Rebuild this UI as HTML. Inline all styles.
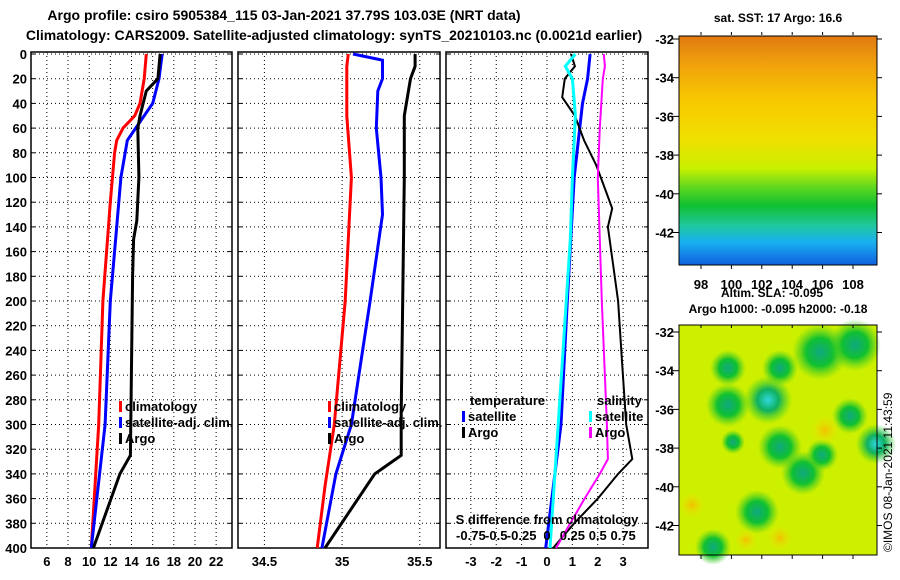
<!DOCTYPE html>
<html><head><meta charset="utf-8">
<style>
body{margin:0;background:#fff;}
svg{display:block;font-family:"Liberation Sans",sans-serif;font-weight:bold;}
</style></head>
<body>
<svg id="chart" width="900" height="580" viewBox="0 0 900 580" xmlns="http://www.w3.org/2000/svg">
<defs>
<linearGradient id="sstg" x1="0" y1="0" x2="0" y2="1">
<stop offset="0" stop-color="#e07a10"/><stop offset="0.12" stop-color="#f0a00c"/>
<stop offset="0.28" stop-color="#f8c800"/><stop offset="0.45" stop-color="#f0e000"/>
<stop offset="0.58" stop-color="#c8f000"/><stop offset="0.66" stop-color="#60d820"/>
<stop offset="0.74" stop-color="#10c030"/><stop offset="0.83" stop-color="#20c8a0"/>
<stop offset="0.9" stop-color="#18b0f0"/><stop offset="1" stop-color="#1060e0"/>
</linearGradient>
<radialGradient id="blob"><stop offset="0" stop-color="#10a880"/><stop offset="0.5" stop-color="#10c030"/><stop offset="1" stop-color="#50d020" stop-opacity="0"/></radialGradient>
<radialGradient id="blobc"><stop offset="0" stop-color="#30d8e0"/><stop offset="0.45" stop-color="#10b060"/><stop offset="1" stop-color="#30d020" stop-opacity="0"/></radialGradient>
<radialGradient id="blobo"><stop offset="0" stop-color="#f2c000"/><stop offset="1" stop-color="#e8ec00" stop-opacity="0"/></radialGradient>
</defs>
<text x="284" y="20" font-size="14" text-anchor="middle">Argo profile: csiro 5905384_115 03-Jan-2021 37.79S 103.03E (NRT data)</text>
<text x="334" y="40" font-size="14" text-anchor="middle">Climatology: CARS2009. Satellite-adjusted climatology: synTS_20210103.nc (0.0021d earlier)</text>
<g id="p1"></g>
<g id="p2"></g>
<g id="p3"></g>
<g id="maps">
<text x="778" y="22" font-size="12" text-anchor="middle">sat. SST: 17 Argo: 16.6</text>
<rect x="679" y="36" width="198" height="229" fill="url(#sstg)"/>
<rect x="679" y="36" width="198" height="229" fill="none" stroke="#000" stroke-width="1"/>
<text x="772" y="297" font-size="12" text-anchor="middle">Altim. SLA: -0.095</text>
<text x="778" y="313" font-size="12" text-anchor="middle">Argo h1000: -0.095 h2000: -0.18</text>
<rect x="679" y="325" width="198" height="230" fill="#ccf000"/>
<g id="blobs"></g>
<rect x="679" y="325" width="198" height="230" fill="none" stroke="#000" stroke-width="1"/>
<text transform="translate(892,552) rotate(-90)" font-size="12" font-weight="normal">©IMOS 08-Jan-2021 11:43:59</text>
</g>
</svg>
<script>
const NS="http://www.w3.org/2000/svg";
const svg=document.getElementById('chart');
function mk(p,t,a){const e=document.createElementNS(NS,t);for(const k in a)e.setAttribute(k,a[k]);p.appendChild(e);return e;}
const yTop=54,yBot=548,dMax=400;
const Y=d=>yTop+d/dMax*(yBot-yTop);
// data
const depthTicks=[0,20,40,60,80,100,120,140,160,180,200,220,240,260,280,300,320,340,360,380,400];
const tTicks=[6,8,10,12,14,16,18,20,22];
const sTicks=[34.5,35,35.5];
const dTicks=[-3,-2,-1,0,1,2,3];
const climTDepth=[0,20,40,50,60,70,80,120,200,300,400];
const climT=[15.4,15.2,14.8,14.3,13.2,12.6,12.4,12.0,11.3,10.9,10.2];
const satTDepth=[0,20,40,60,70,100,140,200,300,400];
const satT=[16.9,16.6,16.0,14.4,13.6,13.0,12.6,12.0,11.5,10.2];
const argoTDepth=[0,20,30,50,60,100,135,150,180,325,340,400];
const argoT=[16.7,16.5,15.4,14.8,14.6,14.7,14.5,14.2,14.1,13.9,12.9,10.4];
const climSDepth=[0,10,50,100,200,300,350,400];
const climS=[35.04,35.03,35.03,35.06,35.02,34.95,34.89,34.84];
const satSDepth=[0,5,20,30,60,100,130,200,300,340,400];
const satS=[35.07,35.26,35.26,35.23,35.22,35.25,35.26,35.18,35.06,34.96,34.87];
const argoSDepth=[0,10,20,50,100,200,290,325,340,400];
const argoS=[35.47,35.47,35.44,35.40,35.40,35.39,35.38,35.38,35.21,34.89];
const dTsatDepth=[0,20,40,100,200,300,400];
const dTsat=[1.7,1.6,1.4,1.07,0.8,0.55,-0.05];
const dTargoDepth=[0,10,20,35,50,70,90,110,125,140,170,200,250,300,328,340,360,380,400];
const dTargo=[0.95,1.1,0.7,0.6,1.1,1.46,1.94,2.3,2.57,2.4,2.6,2.8,2.96,3.12,3.36,2.8,2.0,1.07,0.24];
const dSsatDepth=[0,10,20,50,100,150,200,300,400];
const dSsat=[0.28,0.18,0.25,0.28,0.25,0.23,0.19,0.11,0.03];
const dSargoDepth=[0,10,20,60,100,200,300,328,340,360,380,400];
const dSargo=[0.56,0.57,0.55,0.52,0.5,0.54,0.59,0.6,0.52,0.37,0.23,0.09];
const sDiffTicks=[-0.75,-0.5,-0.25,0,0.25,0.5,0.75];

function panel(gid,x0,x1,xmin,xmax,ticks,fmt,showDepth){
  const g=document.getElementById(gid);
  const X=v=>x0+(v-xmin)/(xmax-xmin)*(x1-x0);
  depthTicks.forEach(d=>{
    const l=mk(g,'line',{x1:x0,x2:x1,y1:Y(d),y2:Y(d),stroke:'#000','stroke-dasharray':'1,3'});
    
    
    mk(g,'line',{x1:x0,x2:x0+4,y1:Y(d),y2:Y(d),stroke:'#000'});
    mk(g,'line',{x1:x1-4,x2:x1,y1:Y(d),y2:Y(d),stroke:'#000'});
    if(showDepth){const t=mk(g,'text',{x:x0-4,y:Y(d)+5,'font-size':13,'text-anchor':'end'});t.textContent=d;
      
      }
  });
  ticks.forEach(v=>{
    const l=mk(g,'line',{x1:X(v),x2:X(v),y1:yTop-2,y2:yBot,stroke:'#000','stroke-dasharray':'1,3'});
    
    
    const t=mk(g,'text',{x:X(v),y:566,'font-size':13,'text-anchor':'middle',fill:'#000'});
    t.textContent=fmt(v);
    
    
  });
  const r=mk(g,'rect',{x:x0,y:yTop-2,width:x1-x0,height:yBot-yTop+2,fill:'none',stroke:'#000','stroke-width':1.5});
  
  
  return {g,X};
}
function line(P,X,depths,vals,color,name,w){
  const pts=depths.map((d,i)=>X(vals[i]).toFixed(1)+','+Y(d).toFixed(1)).join(' ');
  const e=mk(P.g,'polyline',{points:pts,fill:'none',stroke:color,'stroke-width':w||3});
  
  
}
function legend(g,x,y,items,title){
  if(title){const t=mk(g,'text',{x:x+8,y:y-16,'font-size':13});t.textContent=title;
    }
  items.forEach((it,i)=>{
    mk(g,'rect',{x:x,y:y+i*16-10,width:3,height:11,fill:it[1]});
    const t=mk(g,'text',{x:x+6,y:y+i*16,'font-size':13});t.textContent=it[0];
    
    
  });
}
// panel 1
const P1=panel('p1',31,232,4.5,23.5,tTicks,v=>v,true);
line(P1,P1.X,climTDepth,climT,'#f00','climatology-temp-line');
line(P1,P1.X,satTDepth,satT,'#00f','satellite-temp-line');
line(P1,P1.X,argoTDepth,argoT,'#000','argo-temp-line');
legend(P1.g,119,411,[['climatology','#f00'],['satellite-adj. clim.','#00f'],['Argo','#000']]);
// panel 2
const P2=panel('p2',238,440,34.33,35.63,sTicks,v=>v,false);
line(P2,P2.X,climSDepth,climS,'#f00','climatology-sal-line');
line(P2,P2.X,satSDepth,satS,'#00f','satellite-sal-line');
line(P2,P2.X,argoSDepth,argoS,'#000','argo-sal-line');
legend(P2.g,328,411,[['climatology','#f00'],['satellite-adj. clim.','#00f'],['Argo','#000']]);
// panel 3
const P3=panel('p3',446,648,-3.98,3.98,dTicks,v=>v,false);
const XS=s=>P3.X(s*4);
line(P3,P3.X,dTsatDepth,dTsat,'#00f','temp-diff-satellite-line');
line(P3,P3.X,dTargoDepth,dTargo,'#000','temp-diff-argo-line',2);
line(P3,XS,dSsatDepth,dSsat,'#0ff','sal-diff-satellite-line');
line(P3,XS,dSargoDepth,dSargo,'#f0f','sal-diff-argo-line',2);
legend(P3.g,462,421,[['satellite','#00f'],['Argo','#000']],'temperature');
legend(P3.g,589,421,[['satellite','#0ff'],['Argo','#f0f']],'salinity');
{const t=mk(P3.g,'text',{x:547,y:524,'font-size':13,'text-anchor':'middle'});t.textContent='S difference from climatology';
 }
sDiffTicks.forEach(s=>{const t=mk(P3.g,'text',{x:XS(s),y:540,'font-size':13,'text-anchor':'middle'});t.textContent=s;
 });
// map axes
const maps=document.getElementById('maps');
const lats=[-32,-34,-36,-38,-40,-42];
const lons=[98,100,102,104,106,108];
[[39,265],[332,555]].forEach((m,k)=>{
  lats.forEach((la,i)=>{const y=m[0]+i*38.7;
    mk(maps,'line',{x1:672,x2:679,y1:y,y2:y,stroke:'#000'});
    mk(maps,'line',{x1:877,x2:882,y1:y,y2:y,stroke:'#000'});
    const t=mk(maps,'text',{x:674,y:y+5,'font-size':13,'text-anchor':'end'});t.textContent=la;
    });
  lons.forEach((lo,i)=>{const x=701+i*30.4;
    mk(maps,'line',{x1:x,x2:x,y1:m[1],y2:m[1]+4,stroke:'#000'});
    mk(maps,'line',{x1:x,x2:x,y1:m[0]-4,y2:m[0]-7,stroke:'#000'});
    if(k===0){const t=mk(maps,'text',{x:x,y:289,'font-size':13,'text-anchor':'middle'});t.textContent=lo;
      }});
});
// bottom map blobs (visual texture)
const bl=document.getElementById('blobs');
[[768,400,'blobc',24],[728,405,'blob',22],[728,368,'blob',18],[780,368,'blob',18],[820,352,'blob',28],[855,345,'blob',26],[780,447,'blob',22],[803,473,'blob',22],[757,512,'blob',22],[713,547,'blob',18],[876,444,'blobc',20],[850,416,'blob',18],[822,455,'blob',16],[733,442,'blob',12]].forEach(b=>{
  mk(bl,'circle',{cx:b[0],cy:b[1],r:b[3],fill:'url(#'+b[2]+')'});});
[[692,505,'blobo',14],[825,430,'blobo',16],[780,538,'blobo',14],[746,540,'blobo',12]].forEach(b=>{
  mk(bl,'circle',{cx:b[0],cy:b[1],r:b[3],fill:'url(#'+b[2]+')'});});
</script>
</body></html>
